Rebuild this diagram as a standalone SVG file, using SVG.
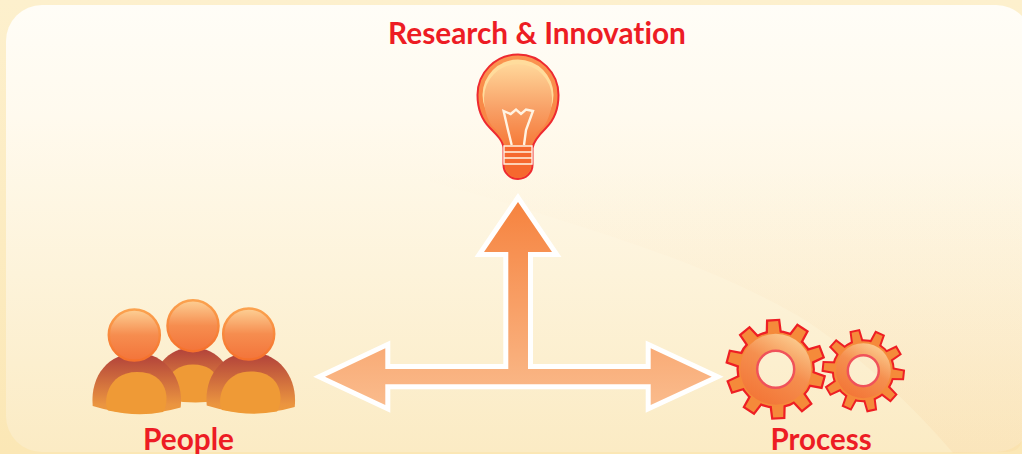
<svg xmlns="http://www.w3.org/2000/svg" xmlns:xlink="http://www.w3.org/1999/xlink" width="1022" height="454" viewBox="0 0 1022 454">
<style>
.lbl{font-family:"Lato","Liberation Sans",sans-serif;font-weight:700;fill:#ed1c24;text-anchor:middle;font-variant-ligatures:none}
.head{fill:url(#headG);stroke:url(#headRim);stroke-width:2.5}
.gearLine{fill:#ee1f24;stroke:#ee1f24;stroke-linejoin:miter}
.gearFill{fill:#f58a3a}
.ring{fill:none;stroke:#f0525a;stroke-width:2.5}
.band{fill:none;stroke:#fff3e2;stroke-width:1.4}
</style>
<defs>
<linearGradient id="bg" x1="0" y1="0" x2="0" y2="1"><stop offset="0" stop-color="#fdf0cd"/><stop offset="1" stop-color="#fbe7b5"/></linearGradient>
<linearGradient id="panel" x1="0" y1="0" x2="0" y2="1"><stop offset="0" stop-color="#fffdf7"/><stop offset=".25" stop-color="#fffaee"/><stop offset=".6" stop-color="#fdf3da"/><stop offset="1" stop-color="#fbebc4"/></linearGradient>
<linearGradient id="swooshG" gradientUnits="userSpaceOnUse" x1="0" y1="170" x2="0" y2="454"><stop offset="0" stop-color="#f8d2a5" stop-opacity="0"/><stop offset=".4" stop-color="#f8d2a5" stop-opacity=".08"/><stop offset="1" stop-color="#f8d09a" stop-opacity=".22"/></linearGradient>
<linearGradient id="arrowG" gradientUnits="userSpaceOnUse" x1="0" y1="202" x2="0" y2="405"><stop offset="0" stop-color="#f6833f"/><stop offset="1" stop-color="#fabb8c"/></linearGradient>
<linearGradient id="bulbG" x1="0" y1="0" x2="0" y2="1"><stop offset="0" stop-color="#ffd79a"/><stop offset=".55" stop-color="#f8a066"/><stop offset="1" stop-color="#f67a38"/></linearGradient>
<linearGradient id="bulbRim" x1="0" y1="0" x2="0" y2="1"><stop offset="0" stop-color="#fb9450"/><stop offset="1" stop-color="#f67a3c"/></linearGradient>
<linearGradient id="headG" x1="0" y1="0" x2="0" y2="1"><stop offset="0" stop-color="#fdd095"/><stop offset=".5" stop-color="#f68d4f"/><stop offset="1" stop-color="#f3743a"/></linearGradient>
<linearGradient id="headRim" x1="0" y1="0" x2="0" y2="1"><stop offset="0" stop-color="#fba24f"/><stop offset="1" stop-color="#f5702c"/></linearGradient>
<linearGradient id="bodyG" x1="0" y1="0" x2="0" y2="1"><stop offset="0" stop-color="#b03f3a"/><stop offset=".85" stop-color="#ea9440"/><stop offset="1" stop-color="#ee9a3c"/></linearGradient>
<linearGradient id="gearG" x1=".25" y1=".95" x2=".75" y2=".05"><stop offset="0" stop-color="#f37637"/><stop offset=".55" stop-color="#f58f4f"/><stop offset="1" stop-color="#fbc98c"/></linearGradient>
<polygon id="toothB" points="-6,-35 -5,-48 5,-48 6,-35"/>
<polygon id="toothS" points="-4.500,-27 -3.500,-39.500 3.500,-39.500 4.500,-27"/>
<g id="teethB"><use xlink:href="#toothB" transform="rotate(-3)"/><use xlink:href="#toothB" transform="rotate(33)"/><use xlink:href="#toothB" transform="rotate(69)"/><use xlink:href="#toothB" transform="rotate(105)"/><use xlink:href="#toothB" transform="rotate(141)"/><use xlink:href="#toothB" transform="rotate(177)"/><use xlink:href="#toothB" transform="rotate(213)"/><use xlink:href="#toothB" transform="rotate(249)"/><use xlink:href="#toothB" transform="rotate(285)"/><use xlink:href="#toothB" transform="rotate(321)"/><circle r="37"/></g>
<g id="teethS"><use xlink:href="#toothS" transform="rotate(-12)"/><use xlink:href="#toothS" transform="rotate(24)"/><use xlink:href="#toothS" transform="rotate(60)"/><use xlink:href="#toothS" transform="rotate(96)"/><use xlink:href="#toothS" transform="rotate(132)"/><use xlink:href="#toothS" transform="rotate(168)"/><use xlink:href="#toothS" transform="rotate(204)"/><use xlink:href="#toothS" transform="rotate(240)"/><use xlink:href="#toothS" transform="rotate(276)"/><use xlink:href="#toothS" transform="rotate(312)"/><circle r="29.500"/></g>
<mask id="holeB" maskUnits="userSpaceOnUse" x="-60" y="-60" width="120" height="120"><rect x="-60" y="-60" width="120" height="120" fill="#fff"/><circle r="18" fill="#000"/></mask>
<mask id="holeS" maskUnits="userSpaceOnUse" x="-50" y="-50" width="100" height="100"><rect x="-50" y="-50" width="100" height="100" fill="#fff"/><circle r="15" fill="#000"/></mask>
<g id="person">
<path d="M-44.300,18 C-47,-13 -28,-35 0,-35 C28,-35 47,-10 43.700,19.500 Q0,32 -44.300,18Z" fill="url(#bodyG)"/>
<path d="M-29,22.500 C-34,16 -31,-16 0,-16 C32,-16 33,14 26,24 Q0,29 -29,22.500Z" fill="#ef9a36"/>
</g>
</defs>
<rect id="background" width="1022" height="454" fill="url(#bg)"/>
<rect id="panel-card" x="6" y="5" width="1026" height="447" rx="36" fill="url(#panel)"/>
<path id="swoosh" d="M430,182 C480,195 520,207 560,220 C640,245 720,272 793,313 C835,337 900,390 953,453 L1006,452 Q1022,452 1022,437 L1022,170 L430,170Z" fill="url(#swooshG)"/>
<g id="connectors">
<path d="M518,202 L552,252 L528,252 L528,369 L650.700,369 L650.700,348.300 L711.700,376.700 L650.700,405 L650.700,384.300 L385.300,384.300 L385.300,405 L325,376.700 L385.300,348.300 L385.300,369 L508.300,369 L508.300,252 L484,252Z" fill="url(#arrowG)" stroke="#fff" stroke-width="10" stroke-miterlimit="10" paint-order="stroke"/>
</g>
<g id="research-innovation">
<text class="lbl" x="537" y="44" font-size="29.800">Research &amp; Innovation</text>
<path d="M503.500,148 C503,141 497,135 490,128 C482,120 477.500,108 477.500,95 A40.500,40.500 0 0 1 558.500,95 C558.500,108 554,120 546,128 C539,135 533.500,141 532.500,148 L532.500,165 A14.500,14 0 0 1 503.500,165Z" fill="url(#bulbRim)" stroke="#ee2a30" stroke-width="2"/>
<ellipse cx="518" cy="95" rx="35.500" ry="35.500" fill="#ffdc9c"/>
<path d="M506,146 C506,139 499,132 492,126 C487,119 484,108 484,98 A34,34 0 0 1 552,98 C552,108 549,119 544,126 C537,132 530,139 530,146Z" fill="url(#bulbG)"/>
<path d="M505,145 L531,145 L531,165 A13,13 0 0 1 505,165Z" fill="#f6682e"/>
<path d="M511.700,145 L508,130 L503.600,111 L510.700,114 L516,109.500 L521,114 L526,109.500 L533,111 L526,130 L524,145" fill="none" stroke="#fff3e2" stroke-width="2.400"/>
<path class="band" d="M504,146 H532 V152 H504Z M504,152 H532 V158 H504Z M504,158 H532 V164 H504Z"/>
</g>
<g id="people">
<use xlink:href="#person" transform="translate(193,379) scale(.9)"/>
<circle class="head" cx="193" cy="325.700" r="25.500"/>
<use xlink:href="#person" transform="translate(137,388)"/>
<circle class="head" cx="134.300" cy="335" r="25.500"/>
<use xlink:href="#person" transform="translate(251,387.500)"/>
<circle class="head" cx="248.700" cy="334" r="25.500"/>
<text class="lbl" x="188.500" y="450" font-size="29.800">People</text>
</g>
<g id="process">
<g transform="translate(775.700,369.300)"><g mask="url(#holeB)"><use xlink:href="#teethB" class="gearLine" stroke-width="4.500"/><use xlink:href="#teethB" class="gearFill"/><circle r="35.500" fill="url(#gearG)"/></g><circle class="ring" r="18.500"/></g>
<g transform="translate(863.300,370.700)"><g mask="url(#holeS)"><use xlink:href="#teethS" class="gearLine" stroke-width="4"/><use xlink:href="#teethS" class="gearFill"/><circle r="27.500" fill="url(#gearG)"/></g><circle class="ring" r="15.500"/></g>
<text class="lbl" x="821" y="450" font-size="29.500">Process</text>
</g>
</svg>
